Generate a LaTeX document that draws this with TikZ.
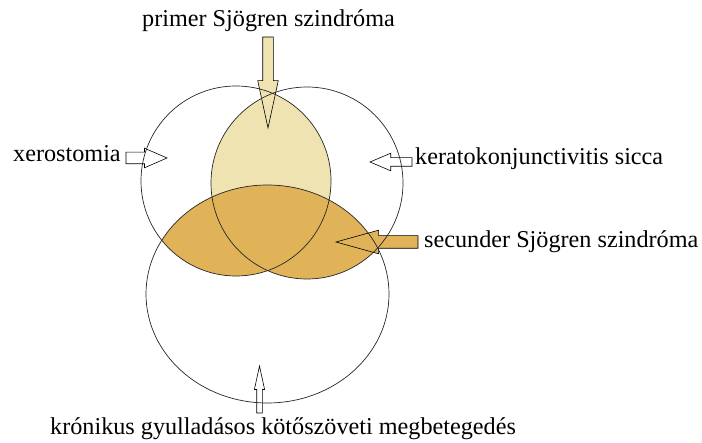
\documentclass[tikz,border=0pt]{standalone}
\usepackage{fontspec}
\setmainfont{Liberation Serif}
\usetikzlibrary{shapes.arrows}

\definecolor{paletan}{RGB}{239,227,177}
\definecolor{darktan}{RGB}{224,179,89}

\begin{document}
\begin{tikzpicture}[x=1pt,y=-1pt,
  lbl/.style={inner sep=0pt, anchor=base west, font=\fontsize{24.2}{28}\selectfont},
  ring/.style={draw=black!85, line width=0.7pt},
  blockarrow/.style n args={5}{single arrow, draw=black, line width=0.6pt,
    outer sep=0pt, minimum width=0pt, minimum height=#1,
    inner sep=#2, single arrow head extend=#3, single arrow tip angle=#4,
    shape border rotate=#5, anchor=tip}]
  \useasboundingbox (0,0) rectangle (702,443);

  % Circle centres
  \coordinate (xc) at (236,181);
  \coordinate (kc) at (307,183);
  \coordinate (cc) at (267.5,294);

  % Overlap of the two upper circles
  \begin{scope}
    \clip (xc) circle[radius=95pt];
    \fill[paletan] (kc) circle[radius=96pt];
  \end{scope}
  % Lower ellipse cut with the upper circles
  \begin{scope}
    \clip (cc) ellipse[x radius=121.5pt, y radius=109pt];
    \fill[darktan] (xc) circle[radius=95pt] (kc) circle[radius=96pt];
  \end{scope}

  % Block arrows
  \node[blockarrow={91pt}{5pt}{5pt}{24.5}{270}, fill=paletan] (primarrow) at (268,128) {};
  \node[blockarrow={41pt}{5.5pt}{4pt}{47}{0}, fill=white] (xeroarrow) at (167,158) {};
  \node[blockarrow={42pt}{4pt}{4.5pt}{46}{180}, fill=white] (keraarrow) at (370,162) {};
  \node[blockarrow={82pt}{6pt}{5.5pt}{31}{180}, fill=darktan] (secarrow) at (336,242) {};
  \node[blockarrow={47pt}{2.5pt}{2.3pt}{24.5}{90}, fill=white] (kronarrow) at (259.5,366) {};

  % Outlines
  \draw[ring] (xc) circle[radius=95pt];
  \draw[ring] (kc) circle[radius=96pt];
  \draw[ring] (cc) ellipse[x radius=121.5pt, y radius=109pt];

  % Labels
  \node[lbl, anchor=base] (primer) at (268.5,27) {primer Sjögren szindróma};
  \node[lbl] (xero) at (13,162) {xerostomia};
  \node[lbl] (kerato) at (415,165) {keratokonjunctivitis sicca};
  \node[lbl] (secunder) at (424,248) {secunder Sjögren szindróma};
  \node[lbl] (kronikus) at (50,435) {krónikus gyulladásos kötőszöveti megbetegedés};
\end{tikzpicture}
\end{document}
